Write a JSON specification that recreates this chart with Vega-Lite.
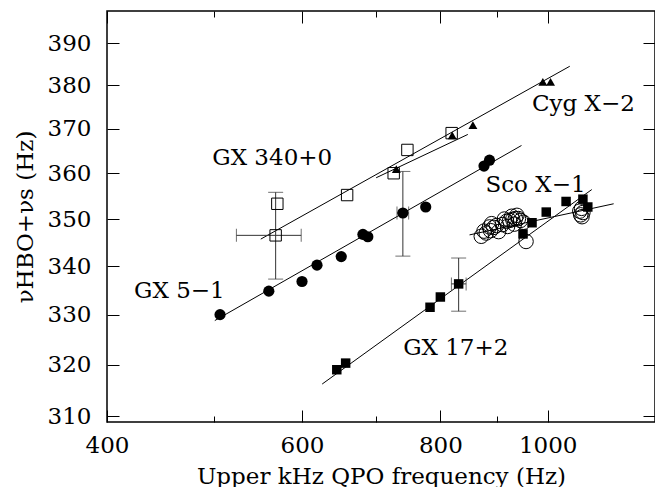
{
  "$schema": "https://vega.github.io/schema/vega-lite/v6.json",
  "width": 548,
  "height": 411,
  "autosize": {"type": "none"},
  "padding": {"left": 107, "top": 11, "right": 0, "bottom": 65},
  "background": "white",
  "config": {
    "view": {"stroke": "black", "strokeWidth": 1.5},
    "font": "DejaVu Serif",
    "axis": {
      "domain": false,
      "grid": false,
      "zindex": 1,
      "tickColor": "black",
      "tickWidth": 1,
      "labelFont": "DejaVu Serif",
      "labelFontSize": 23,
      "labelColor": "black",
      "labelFlush": false,
      "labelOverlap": false,
      "titleFont": "DejaVu Serif",
      "titleFontSize": 23,
      "titleFontWeight": "normal",
      "titleColor": "black"
    }
  },
  "datasets": {
    "pts": [
      {"src": "GX 5-1", "x": 506, "y": 330.0},
      {"src": "GX 5-1", "x": 560, "y": 334.8},
      {"src": "GX 5-1", "x": 600, "y": 336.8},
      {"src": "GX 5-1", "x": 619, "y": 340.2},
      {"src": "GX 5-1", "x": 651, "y": 342.0},
      {"src": "GX 5-1", "x": 681, "y": 346.7},
      {"src": "GX 5-1", "x": 688, "y": 346.2},
      {"src": "GX 5-1", "x": 740, "y": 351.3},
      {"src": "GX 5-1", "x": 776, "y": 352.6},
      {"src": "GX 5-1", "x": 876, "y": 361.6},
      {"src": "GX 5-1", "x": 886, "y": 362.9},
      {"src": "GX 340+0", "x": 570, "y": 353.3},
      {"src": "GX 340+0", "x": 568, "y": 346.5},
      {"src": "GX 340+0", "x": 659, "y": 355.2},
      {"src": "GX 340+0", "x": 726, "y": 360.0},
      {"src": "GX 340+0", "x": 747, "y": 365.2},
      {"src": "GX 340+0", "x": 819, "y": 369.0},
      {"src": "Cyg X-2", "x": 730, "y": 360.9},
      {"src": "Cyg X-2", "x": 820, "y": 368.5},
      {"src": "Cyg X-2", "x": 856, "y": 370.8},
      {"src": "Cyg X-2", "x": 990, "y": 380.8},
      {"src": "Cyg X-2", "x": 1006, "y": 380.8},
      {"src": "GX 17+2", "x": 645, "y": 319.0},
      {"src": "GX 17+2", "x": 657, "y": 320.3},
      {"src": "GX 17+2", "x": 783, "y": 331.5},
      {"src": "GX 17+2", "x": 800, "y": 333.6},
      {"src": "GX 17+2", "x": 831, "y": 336.3},
      {"src": "GX 17+2", "x": 950, "y": 346.8},
      {"src": "GX 17+2", "x": 968, "y": 349.2},
      {"src": "GX 17+2", "x": 997, "y": 351.5},
      {"src": "GX 17+2", "x": 1039, "y": 353.8},
      {"src": "GX 17+2", "x": 1076, "y": 354.3},
      {"src": "GX 17+2", "x": 1087, "y": 352.6},
      {"src": "Sco X-1", "x": 871, "y": 346.3},
      {"src": "Sco X-1", "x": 876, "y": 347.4},
      {"src": "Sco X-1", "x": 880, "y": 347.0},
      {"src": "Sco X-1", "x": 886, "y": 348.3},
      {"src": "Sco X-1", "x": 888, "y": 347.5},
      {"src": "Sco X-1", "x": 890, "y": 349.0},
      {"src": "Sco X-1", "x": 894, "y": 348.2},
      {"src": "Sco X-1", "x": 899, "y": 348.6},
      {"src": "Sco X-1", "x": 903, "y": 347.3},
      {"src": "Sco X-1", "x": 910, "y": 348.8},
      {"src": "Sco X-1", "x": 914, "y": 350.0},
      {"src": "Sco X-1", "x": 918, "y": 349.5},
      {"src": "Sco X-1", "x": 920, "y": 348.4},
      {"src": "Sco X-1", "x": 924, "y": 349.7},
      {"src": "Sco X-1", "x": 928, "y": 350.6},
      {"src": "Sco X-1", "x": 930, "y": 349.9},
      {"src": "Sco X-1", "x": 933, "y": 348.9},
      {"src": "Sco X-1", "x": 935, "y": 350.1},
      {"src": "Sco X-1", "x": 938, "y": 350.8},
      {"src": "Sco X-1", "x": 941, "y": 350.1},
      {"src": "Sco X-1", "x": 945, "y": 349.7},
      {"src": "Sco X-1", "x": 951, "y": 349.3},
      {"src": "Sco X-1", "x": 956, "y": 345.2},
      {"src": "Sco X-1", "x": 1069, "y": 351.7},
      {"src": "Sco X-1", "x": 1071, "y": 350.9},
      {"src": "Sco X-1", "x": 1073, "y": 352.3},
      {"src": "Sco X-1", "x": 1076, "y": 351.4},
      {"src": "Sco X-1", "x": 1074, "y": 350.5}
    ],
    "fits": [
      {"fit": "GX 5-1", "x": 500.5, "y": 328.8},
      {"fit": "GX 5-1", "x": 947, "y": 366.2},
      {"fit": "GX 340+0", "x": 550.7, "y": 345.7},
      {"fit": "GX 340+0", "x": 1047, "y": 384.5},
      {"fit": "Cyg X-2", "x": 700, "y": 359.0},
      {"fit": "Cyg X-2", "x": 847, "y": 368.7},
      {"fit": "GX 17+2", "x": 625.7, "y": 316.2},
      {"fit": "GX 17+2", "x": 1096, "y": 356.4},
      {"fit": "Sco X-1", "x": 850, "y": 346.6},
      {"fit": "Sco X-1", "x": 1147, "y": 353.3}
    ],
    "err": [
      {"src": "GX 340+0", "x": 568, "y": 346.5, "xlo": 523.5, "xhi": 599, "ylo": 337.3, "yhi": 355.8},
      {"src": "GX 5-1", "x": 740, "y": 351.3, "xlo": 731, "xhi": 749, "ylo": 342.1, "yhi": 360.4},
      {"src": "GX 17+2", "x": 831, "y": 336.3, "xlo": 818.6, "xhi": 844, "ylo": 330.7, "yhi": 341.7}
    ],
    "labels": [
      {"label": "GX 340+0", "x": 564, "y": 363.5},
      {"label": "Cyg X−2", "x": 1077, "y": 375.6},
      {"label": "Sco X−1", "x": 975, "y": 357.4},
      {"label": "GX 5−1", "x": 465, "y": 334.8},
      {"label": "GX 17+2", "x": 826, "y": 323.3}
    ]
  },
  "layer": [
    {
      "data": {"name": "fits"},
      "mark": {"type": "line", "color": "black", "strokeWidth": 1},
      "encoding": {
        "x": {"field": "x", "type": "quantitative",
              "scale": {"type": "log", "domain": [400, 1250], "nice": false, "zero": false},
              "axis": {"orient": "bottom", "values": [400, 600, 800, 1000], "format": "d", "offset": -12, "tickSize": 12, "labelPadding": 12,
                       "title": "Upper kHz QPO frequency (Hz)", "titlePadding": 8}},
        "y": {"field": "y", "type": "quantitative",
              "scale": {"type": "log", "domain": [308.9, 397.8], "nice": false, "zero": false},
              "axis": {"orient": "left", "values": [310, 320, 330, 340, 350, 360, 370, 380, 390], "format": "d", "offset": -12, "tickSize": 12, "labelPadding": 16,
                       "title": "νHBO+νs  (Hz)", "titlePadding": 10}},
        "detail": {"field": "fit"}
      }
    },
    {
      "data": {"name": "err"},
      "mark": {"type": "rule", "color": "#333", "strokeWidth": 1},
      "encoding": {
        "x": {"field": "x", "type": "quantitative",
              "scale": {"type": "log", "domain": [400, 1250], "nice": false, "zero": false},
              "axis": {"orient": "top", "values": [400, 600, 800, 1000], "offset": -12, "tickSize": 12, "labels": false, "title": null}},
        "y": {"field": "ylo", "type": "quantitative",
              "scale": {"type": "log", "domain": [308.9, 397.8], "nice": false, "zero": false},
              "axis": {"orient": "right", "values": [310, 320, 330, 340, 350, 360, 370, 380, 390], "offset": -12, "tickSize": 12, "labels": false, "title": null}},
        "y2": {"field": "yhi"}
      }
    },
    {
      "data": {"name": "err"},
      "mark": {"type": "rule", "color": "#333", "strokeWidth": 1},
      "encoding": {
        "x": {"field": "xlo", "type": "quantitative",
              "scale": {"type": "log", "domain": [400, 1250], "nice": false, "zero": false},
              "axis": {"orient": "bottom", "values": [500, 700, 900], "offset": -6, "tickSize": 6, "labels": false, "title": null}},
        "x2": {"field": "xhi"},
        "y": {"field": "y", "type": "quantitative",
              "scale": {"type": "log", "domain": [308.9, 397.8], "nice": false, "zero": false}, "axis": null}
      }
    },
    {
      "data": {"name": "err"},
      "transform": [{"fold": ["ylo", "yhi"], "as": ["k", "yc"]}],
      "mark": {"type": "tick", "orient": "horizontal", "color": "#333", "size": 15, "thickness": 1},
      "encoding": {
        "x": {"field": "x", "type": "quantitative",
              "scale": {"type": "log", "domain": [400, 1250], "nice": false, "zero": false},
              "axis": {"orient": "top", "values": [500, 700, 900], "offset": -6, "tickSize": 6, "labels": false, "title": null}},
        "y": {"field": "yc", "type": "quantitative",
              "scale": {"type": "log", "domain": [308.9, 397.8], "nice": false, "zero": false}, "axis": null}
      }
    },
    {
      "data": {"name": "err"},
      "transform": [{"fold": ["xlo", "xhi"], "as": ["k", "xc"]}],
      "mark": {"type": "tick", "orient": "vertical", "color": "#333", "size": 13, "thickness": 1},
      "encoding": {
        "x": {"field": "xc", "type": "quantitative",
              "scale": {"type": "log", "domain": [400, 1250], "nice": false, "zero": false}, "axis": null},
        "y": {"field": "y", "type": "quantitative",
              "scale": {"type": "log", "domain": [308.9, 397.8], "nice": false, "zero": false}, "axis": null}
      }
    },
    {
      "data": {"name": "pts"},
      "transform": [{"filter": "datum.src === 'GX 5-1'"}],
      "mark": {"type": "point", "shape": "circle", "filled": true, "color": "black", "size": 125, "opacity": 1},
      "encoding": {
        "x": {"field": "x", "type": "quantitative", "scale": {"type": "log", "domain": [400, 1250], "nice": false, "zero": false}, "axis": null},
        "y": {"field": "y", "type": "quantitative", "scale": {"type": "log", "domain": [308.9, 397.8], "nice": false, "zero": false}, "axis": null}
      }
    },
    {
      "data": {"name": "pts"},
      "transform": [{"filter": "datum.src === 'GX 340+0'"}],
      "mark": {"type": "point", "shape": "square", "filled": false, "stroke": "black", "strokeWidth": 1, "size": 130, "opacity": 1},
      "encoding": {
        "x": {"field": "x", "type": "quantitative", "scale": {"type": "log", "domain": [400, 1250], "nice": false, "zero": false}, "axis": null},
        "y": {"field": "y", "type": "quantitative", "scale": {"type": "log", "domain": [308.9, 397.8], "nice": false, "zero": false}, "axis": null}
      }
    },
    {
      "data": {"name": "pts"},
      "transform": [{"filter": "datum.src === 'Cyg X-2'"}],
      "mark": {"type": "point", "shape": "triangle-up", "filled": true, "color": "black", "size": 80, "opacity": 1},
      "encoding": {
        "x": {"field": "x", "type": "quantitative", "scale": {"type": "log", "domain": [400, 1250], "nice": false, "zero": false}, "axis": null},
        "y": {"field": "y", "type": "quantitative", "scale": {"type": "log", "domain": [308.9, 397.8], "nice": false, "zero": false}, "axis": null}
      }
    },
    {
      "data": {"name": "pts"},
      "transform": [{"filter": "datum.src === 'GX 17+2'"}],
      "mark": {"type": "point", "shape": "square", "filled": true, "color": "black", "size": 90, "opacity": 1},
      "encoding": {
        "x": {"field": "x", "type": "quantitative", "scale": {"type": "log", "domain": [400, 1250], "nice": false, "zero": false}, "axis": null},
        "y": {"field": "y", "type": "quantitative", "scale": {"type": "log", "domain": [308.9, 397.8], "nice": false, "zero": false}, "axis": null}
      }
    },
    {
      "data": {"name": "pts"},
      "transform": [{"filter": "datum.src === 'Sco X-1'"}],
      "mark": {"type": "point", "shape": "circle", "filled": false, "stroke": "black", "strokeWidth": 1, "size": 210, "opacity": 1},
      "encoding": {
        "x": {"field": "x", "type": "quantitative", "scale": {"type": "log", "domain": [400, 1250], "nice": false, "zero": false}, "axis": null},
        "y": {"field": "y", "type": "quantitative", "scale": {"type": "log", "domain": [308.9, 397.8], "nice": false, "zero": false}, "axis": null}
      }
    },
    {
      "data": {"name": "labels"},
      "mark": {"type": "text", "font": "DejaVu Serif", "fontSize": 23, "color": "black", "align": "center", "baseline": "middle"},
      "encoding": {
        "x": {"field": "x", "type": "quantitative", "scale": {"type": "log", "domain": [400, 1250], "nice": false, "zero": false}, "axis": null},
        "y": {"field": "y", "type": "quantitative", "scale": {"type": "log", "domain": [308.9, 397.8], "nice": false, "zero": false}, "axis": null},
        "text": {"field": "label"}
      }
    }
  ],
  "resolve": {"axis": {"x": "independent", "y": "independent"}}
}
